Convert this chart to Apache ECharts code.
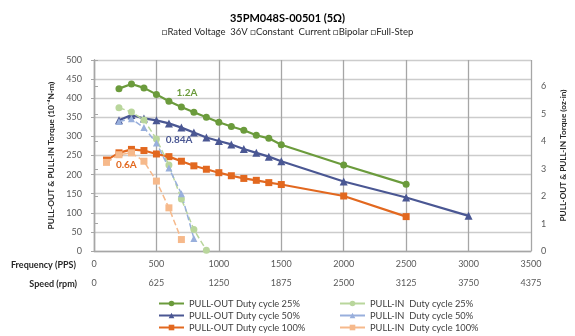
<!DOCTYPE html>
<html>
<head>
<meta charset="utf-8">
<script src="https://cdn.jsdelivr.net/npm/echarts@6/dist/echarts.min.js"></script>
<style>
  html, body { margin: 0; padding: 0; background: #ffffff; }
  #chart { width: 575px; height: 336px; }
</style>
</head>
<body>
<div id="chart"></div>
<script>
// Axis tick labels
const freqTicks = [0, 500, 1000, 1500, 2000, 2500, 3000, 3500];
const speedTicks = [0, 625, 1250, 1875, 2500, 3125, 3750, 4375];

// Pull-out torque curves (10^-4 N·m) vs frequency (PPS)
const pullOutFreq25 = [200, 300, 400, 500, 600, 700, 800, 900, 1000, 1100, 1200, 1300, 1400, 1500, 2000, 2500];
const pullOut25 = [425, 437, 427, 410, 392, 377, 363, 350, 337, 326, 316, 303, 295, 278, 225, 175];

const pullOutFreq50 = [200, 300, 400, 500, 600, 700, 800, 900, 1000, 1100, 1200, 1300, 1400, 1500, 2000, 2500, 3000];
const pullOut50 = [342, 356, 347, 342, 334, 323, 310, 297, 288, 279, 267, 257, 247, 235, 182, 140, 92];

const pullOutFreq100 = [100, 200, 300, 400, 500, 600, 700, 800, 900, 1000, 1100, 1200, 1300, 1400, 1500, 2000, 2500];
const pullOut100 = [238, 257, 266, 263, 254, 247, 235, 223, 214, 205, 197, 190, 185, 179, 174, 144, 90];

// Pull-in torque curves
const pullInFreq25 = [200, 300, 400, 500, 600, 700, 800, 900];
const pullIn25 = [375, 364, 343, 293, 225, 136, 56, 2];

const pullInFreq50 = [200, 300, 400, 500, 600, 700, 800];
const pullIn50 = [339, 346, 323, 283, 217, 150, 33];

const pullInFreq100 = [100, 200, 300, 400, 500, 600, 700];
const pullIn100 = [232, 252, 257, 235, 183, 113, 30];

// Drive current annotations
const currentNames = ['1.2A', '0.84A', '0.6A'];

const FONT = 'Lato, "Liberation Sans", Arial, sans-serif';
const C_OUT = ['#6b9b3c', '#4a5793', '#e2681f'];
const C_IN = ['#b9d69c', '#98afdc', '#f6b98b'];

const zip = (xs, ys) => xs.map((x, i) => [x, ys[i]]);

function pullOutSeries(name, xs, ys, color, symbol, size, note, at) {
  return {
    name, type: 'line', data: zip(xs, ys),
    symbol, symbolSize: size, color,
    lineStyle: { width: 2.2, color },
    itemStyle: { color },
    z: 3,
    markPoint: {
      symbol: 'circle', symbolSize: 0, silent: true,
      label: { show: true, position: 'inside', formatter: note, color, fontWeight: 'bold', fontSize: 10, fontFamily: FONT },
      data: [{ coord: at, value: note }]
    }
  };
}

function pullInSeries(name, xs, ys, color, symbol, size) {
  return {
    name, type: 'line', data: zip(xs, ys),
    symbol, symbolSize: size, color,
    lineStyle: { width: 1.5, type: [6, 3], color },
    itemStyle: { color },
    z: 4
  };
}

const axisGrey = '#a6a6a6';
const labelGrey = '#595959';

const legendBase = {
  orient: 'vertical', top: 299, itemWidth: 25, itemHeight: 7, itemGap: 3,
  padding: 0, height: 40, selectedMode: false,
  textStyle: { fontSize: 9.3, color: '#404040', fontFamily: FONT }
};

const option = {
  animation: false,
  textStyle: { fontFamily: FONT },
  title: [
    { text: '35PM048S-00501 (5Ω)', left: 'center', top: 8,
      textStyle: { fontSize: 11, fontWeight: 'bold', color: '#000', fontFamily: FONT } },
    { text: '□Rated Voltage  36V □Constant  Current □Bipolar □Full-Step', left: 'center', top: 22,
      textStyle: { fontSize: 9.5, fontWeight: 'normal', color: '#262626', fontFamily: FONT } }
  ],
  grid: { left: 94, right: 38, top: 60, bottom: 85 },
  xAxis: [
    {
      type: 'value', min: 0, max: 3500, interval: 500, position: 'bottom',
      axisLine: { show: true, lineStyle: { color: axisGrey, width: 1.3 } },
      axisTick: { show: false },
      axisLabel: { margin: 9, fontSize: 9, color: labelGrey, fontFamily: FONT,
        formatter: v => freqTicks.includes(v) ? String(v) : '' },
      splitLine: { show: true, lineStyle: { color: axisGrey, width: 1.3 } }
    },
    {
      type: 'value', min: 0, max: 4375, interval: 625, position: 'bottom', offset: 19,
      axisLine: { show: false }, axisTick: { show: false }, splitLine: { show: false },
      axisLabel: { margin: 9, fontSize: 9, color: labelGrey, fontFamily: FONT,
        formatter: v => speedTicks.includes(v) ? String(v) : '' }
    }
  ],
  yAxis: [
    {
      type: 'value', min: 0, max: 500, interval: 50, position: 'left',
      axisLine: { show: true, lineStyle: { color: axisGrey, width: 1.3 } },
      axisTick: { show: true, length: 3, lineStyle: { color: axisGrey } },
      axisLabel: { margin: 12, fontSize: 9, color: labelGrey, fontFamily: FONT },
      splitLine: { show: true, lineStyle: { color: '#cccccc', width: 1.3 } },
      name: 'PULL-OUT & PULL-IN Torque (10⁻⁴N·m)', nameLocation: 'middle', nameGap: 38, nameRotate: 90,
      nameTextStyle: { fontSize: 8.4, fontWeight: 'bold', color: '#262626', fontFamily: FONT }
    },
    {
      type: 'value', min: 0, max: 6.97, interval: 1, position: 'right',
      axisLine: { show: true, lineStyle: { color: axisGrey, width: 1.3 } },
      axisTick: { show: true, length: 4, lineStyle: { color: axisGrey } },
      axisLabel: { margin: 10, fontSize: 9, color: labelGrey, fontFamily: FONT,
        formatter: v => Number.isInteger(v) ? String(v) : '' },
      splitLine: { show: false },
      name: 'PULL-OUT & PULL-IN Torque (oz-in)', nameLocation: 'middle', nameGap: 28, nameRotate: 90,
      nameTextStyle: { fontSize: 8.2, fontWeight: 'bold', color: '#262626', fontFamily: FONT }
    }
  ],
  legend: [
    Object.assign({}, legendBase, {
      left: 158,
      data: ['PULL-OUT Duty cycle 25%', 'PULL-OUT Duty cycle 50%', 'PULL-OUT Duty cycle 100%']
    }),
    Object.assign({}, legendBase, {
      left: 339,
      lineStyle: { type: 'solid' },
      data: ['PULL-IN  Duty cycle 25%', 'PULL-IN  Duty cycle 50%', 'PULL-IN  Duty cycle 100%']
    })
  ],
  graphic: [
    { type: 'text', x: 76, y: 265,
      style: { text: 'Frequency (PPS)', font: 'bold 9px ' + FONT, fill: '#262626',
        align: 'right', verticalAlign: 'middle', textAlign: 'right', textVerticalAlign: 'middle' } },
    { type: 'text', x: 77, y: 284,
      style: { text: 'Speed (rpm)', font: 'bold 9px ' + FONT, fill: '#262626',
        align: 'right', verticalAlign: 'middle', textAlign: 'right', textVerticalAlign: 'middle' } }
  ],
  series: [
    pullOutSeries('PULL-OUT Duty cycle 25%', pullOutFreq25, pullOut25, C_OUT[0], 'circle', 7, currentNames[0], [745, 414]),
    pullOutSeries('PULL-OUT Duty cycle 50%', pullOutFreq50, pullOut50, C_OUT[1], 'triangle', 8, currentNames[1], [682, 290]),
    pullOutSeries('PULL-OUT Duty cycle 100%', pullOutFreq100, pullOut100, C_OUT[2], 'rect', 7, currentNames[2], [259, 227]),
    pullInSeries('PULL-IN  Duty cycle 25%', pullInFreq25, pullIn25, C_IN[0], 'circle', 7),
    pullInSeries('PULL-IN  Duty cycle 50%', pullInFreq50, pullIn50, C_IN[1], 'triangle', 7),
    pullInSeries('PULL-IN  Duty cycle 100%', pullInFreq100, pullIn100, C_IN[2], 'rect', 7)
  ]
};

const chart = echarts.init(document.getElementById('chart'), null, { renderer: 'canvas' });
chart.setOption(option);
</script>
</body>
</html>
